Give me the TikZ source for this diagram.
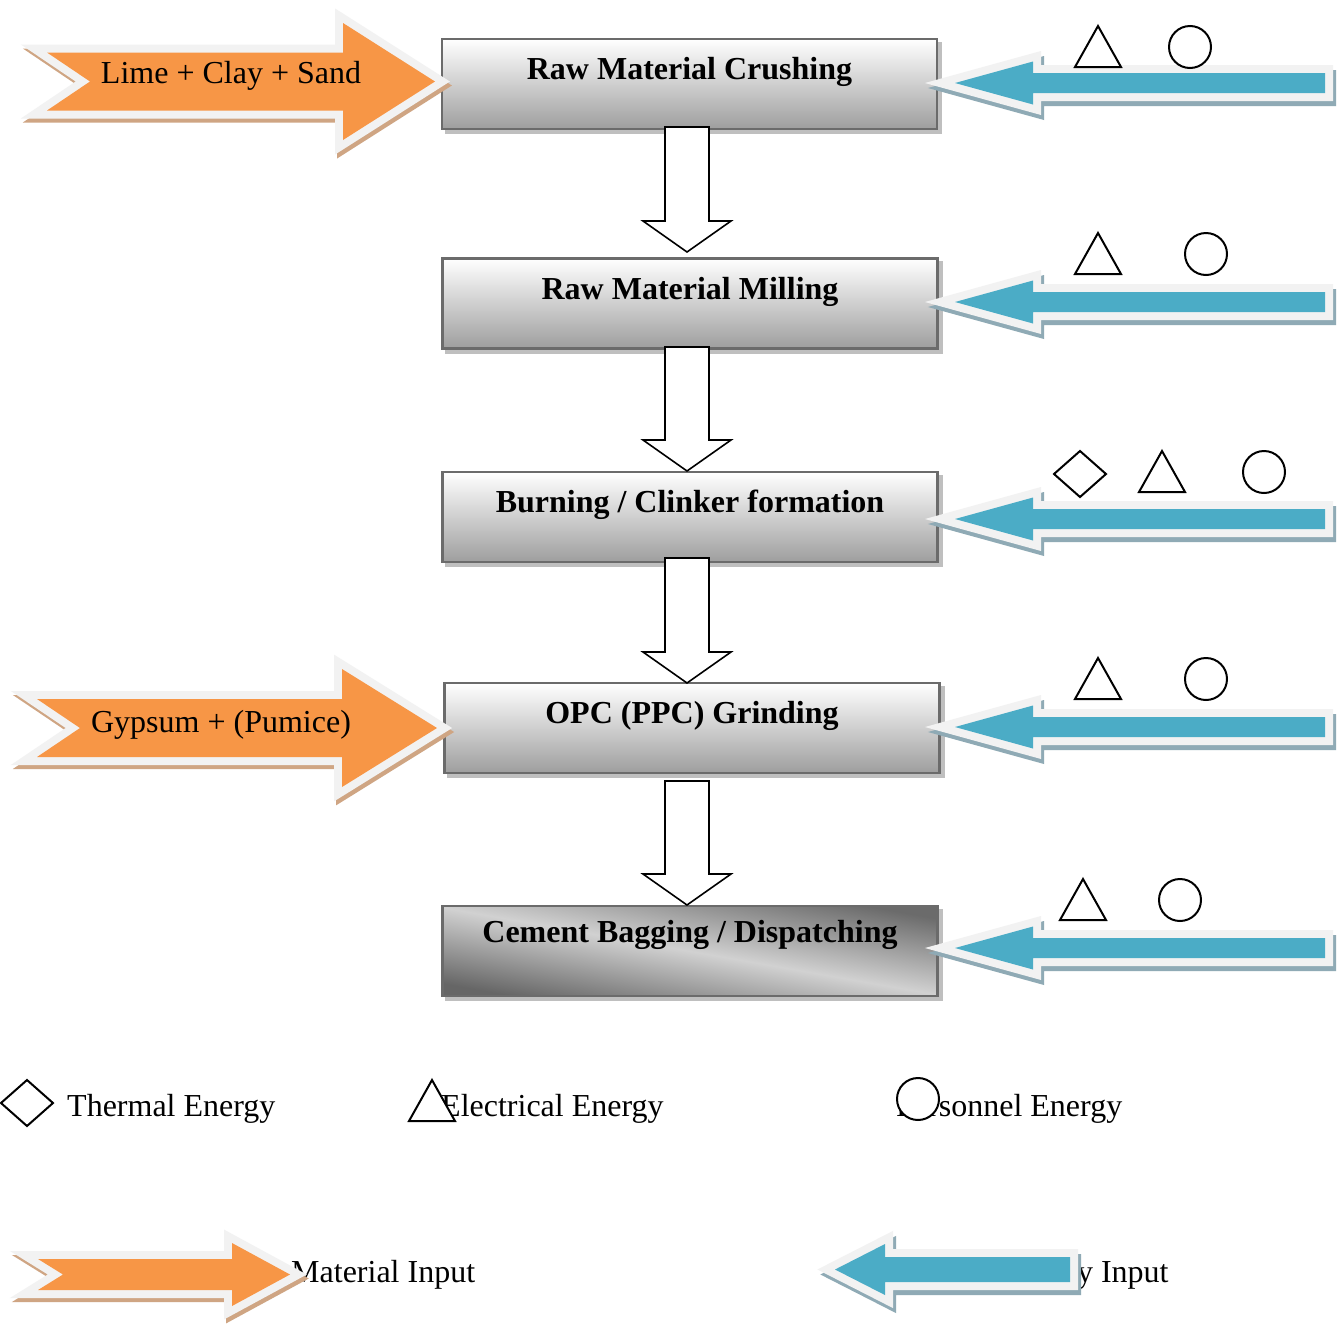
\documentclass[tikz,border=0pt]{standalone}
\usepackage{fontspec}
\setmainfont{Liberation Serif}
\usetikzlibrary{calc}

\definecolor{matorange}{HTML}{F79646}
\definecolor{enblue}{HTML}{4BACC6}
\definecolor{rimgray}{HTML}{F2F2F2}
\definecolor{tanshadow}{HTML}{CFA583}
\definecolor{blueshadow}{HTML}{8FAAB5}

\tikzset{
  stage/.style={draw=black!58, line width=2.5pt, minimum width=495pt,
    minimum height=90pt, inner sep=0pt, top color=white, bottom color=black!38},
  stageshadow/.style={fill=black!25, minimum width=497.5pt, minimum height=92.5pt,
    inner sep=0pt},
  stagetext/.style={font=\bfseries\fontsize{32}{38}\selectfont, anchor=base, inner sep=0pt},
  plaintext/.style={font=\fontsize{32}{38}\selectfont, inner sep=0pt},
  flow/.style={draw=black, line width=1.6pt, fill=white, line join=miter},
  energymark/.style={draw=black, line width=2pt, fill=white, line join=miter},
  matshape/.style={fill=matorange, line join=miter,
    preaction={draw=tanshadow, fill=tanshadow, line width=16pt,
      transform canvas={xshift=2pt, yshift=-4pt}},
    preaction={draw=rimgray, line width=16pt}},
  enshape/.style={fill=enblue, line join=miter,
    preaction={draw=blueshadow, fill=blueshadow, line width=16pt,
      transform canvas={xshift=3pt, yshift=-5pt}},
    preaction={draw=rimgray, line width=16pt}},
}

% process stage: name, x, y, extra style, baseline offset, label
\newcommand\stagebox[6]{%
  \node[stageshadow] at (#2+4,#3+4) {};
  \node[stage,#4] (#1) at (#2,#3) {};
  \node[stagetext] (#1-label) at ($(#1.north)+(0,#5)$) {#6};
}

% hollow downward flow arrow between two named points
\newcommand\flowarrow[2]{%
  \draw[flow] ($(#1)+(-22,0)$) -- ($(#1)+(22,0)$) -- ($(#2)+(22,-31)$)
    -- ($(#2)+(44,-31)$) -- (#2) -- ($(#2)+(-44,-31)$) -- ($(#2)+(-22,-31)$) -- cycle;
}

% material input arrow: tail x, notch x, shaft half, head x, head half, tip x, centre y
\newcommand\matarrow[7]{%
  \path[matshape] (#1,#7-#3) -- (#4,#7-#3) -- (#4,#7-#5) -- (#6,#7)
    -- (#4,#7+#5) -- (#4,#7+#3) -- (#1,#7+#3) -- (#2,#7) -- cycle;
}

% energy input arrow: tip x, head x, end x, shaft half, head half, centre y
\newcommand\enarrow[6]{%
  \path[enshape] (#1,#6) -- (#2,#6-#5) -- (#2,#6-#4) -- (#3,#6-#4)
    -- (#3,#6+#4) -- (#2,#6+#4) -- (#2,#6+#5) -- cycle;
}

\newcommand\tri[2]{\draw[energymark] (#1-23,#2+41) -- (#1,#2) -- (#1+23,#2+41) -- cycle;}
\newcommand\ring[2]{\draw[energymark] (#1,#2) circle[radius=21];}
\newcommand\rhomb[2]{\draw[energymark] (#1-26,#2) -- (#1,#2-23) -- (#1+26,#2) -- (#1,#2+23) -- cycle;}

\begin{document}
\begin{tikzpicture}[x=1pt,y=-1pt]
\useasboundingbox[fill=white] (0,0) rectangle (1341,1326);

% process stages
\stagebox{crush}{689.5}{84}{}{42}{Raw Material Crushing}
\stagebox{mill}{690}{303.5}{}{42}{Raw Material Milling}
\stagebox{burn}{690}{517}{}{42}{Burning / Clinker formation}
\stagebox{grind}{692}{728}{}{42}{OPC (PPC) Grinding}
\stagebox{bag}{690}{951}{shading=axis, top color=black!58, bottom color=black!60,
  middle color=black!18, shading angle=-10}{38}{Cement Bagging / Dispatching}

% flow arrows between stages
\coordinate (d1s) at (687,127); \coordinate (d1e) at (687,252);
\coordinate (d2s) at (687,347); \coordinate (d2e) at (687,471);
\coordinate (d3s) at (687,558); \coordinate (d3e) at (687,683);
\coordinate (d4s) at (687,781); \coordinate (d4e) at (687,905);
\flowarrow{d1s}{d1e}
\flowarrow{d2s}{d2e}
\flowarrow{d3s}{d3e}
\flowarrow{d4s}{d4e}

% material inputs
\matarrow{47}{90}{29}{343}{58.5}{435}{81.5}
\node[plaintext, anchor=base] (lime) at (231,83) {Lime + Clay + Sand};
\matarrow{37}{80}{29}{342}{59}{437}{728}
\node[plaintext, anchor=base] (gypsum) at (221,732) {Gypsum + (Pumice)};

% energy inputs
\enarrow{955}{1033}{1325}{10}{21.5}{83}
\enarrow{955}{1033}{1325}{10}{21.5}{302}
\enarrow{955}{1033}{1325}{10}{21.5}{519}
\enarrow{955}{1033}{1325}{10}{21.5}{727}
\enarrow{955}{1033}{1325}{10}{21.5}{948}

% energy kinds per stage
\tri{1098}{26} \ring{1190}{47}
\tri{1098}{233} \ring{1206}{254}
\rhomb{1080}{474} \tri{1162}{451} \ring{1264}{472}
\tri{1098}{658} \ring{1206}{679}
\tri{1083}{879} \ring{1180}{900}

% key
\node[plaintext, anchor=base west] (kthermal) at (67,1116) {Thermal Energy};
\node[plaintext, anchor=base west] (kelec) at (441,1116) {Electrical Energy};
\node[plaintext, anchor=base west] (kpers) at (896,1116) {Personnel Energy};
\rhomb{27}{1103}
\tri{432}{1080}
\ring{918}{1099}

\node[plaintext, anchor=base west] (kmat) at (291,1282) {Material Input};
\node[plaintext, anchor=base west] (kenergy) at (1001,1282) {Energy Input};
\matarrow{38}{63}{15.5}{232}{31.5}{290}{1274.5}
\enarrow{835}{885}{1070}{12.5}{25.5}{1269.5}
\end{tikzpicture}
\end{document}
